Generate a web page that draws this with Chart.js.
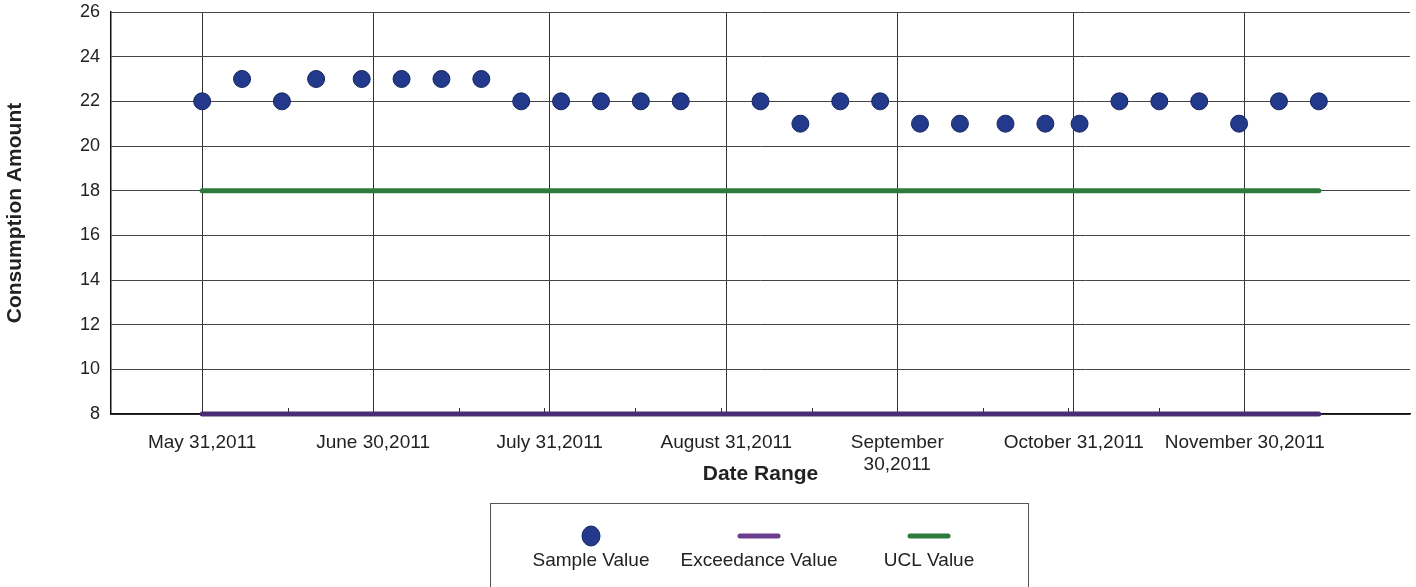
<!DOCTYPE html>
<html>
<head>
<meta charset="utf-8">
<script src="https://cdn.jsdelivr.net/npm/chart.js@4/dist/chart.umd.min.js"></script>
<style>
  html, body { margin: 0; padding: 0; background: #fff; }
  #c { display: block; }
</style>
</head>
<body>
<canvas id="c" width="1416" height="587"></canvas>
<script>
// ── Data ─────────────────────────────────────────────────────
const sampleDates = [
  '2011-05-31', '2011-06-07', '2011-06-14', '2011-06-20', '2011-06-28',
  '2011-07-05', '2011-07-12', '2011-07-19', '2011-07-26', '2011-08-02',
  '2011-08-09', '2011-08-16', '2011-08-23', '2011-09-06', '2011-09-13',
  '2011-09-20', '2011-09-27', '2011-10-04', '2011-10-11', '2011-10-19',
  '2011-10-26', '2011-11-01', '2011-11-08', '2011-11-15', '2011-11-22',
  '2011-11-29', '2011-12-06', '2011-12-13'
];
const sampleValues = [
  22, 23, 22, 23, 23,
  23, 23, 23, 22, 22,
  22, 22, 22, 22, 21,
  22, 22, 21, 21, 21,
  21, 21, 22, 22, 22,
  21, 22, 22
];
const uclValue = 18;
const exceedanceValue = 8;

const tickDates = ['2011-05-31', '2011-06-30', '2011-07-31', '2011-08-31', '2011-09-30', '2011-10-31', '2011-11-30'];
const tickLabels = ['May 31,2011', 'June 30,2011', 'July 31,2011', 'August 31,2011', ['September', '30,2011'], 'October 31,2011', 'November 30,2011'];
const minorTickDates = ['2011-06-15', '2011-07-15', '2011-07-30', '2011-08-15', '2011-08-30', '2011-09-15', '2011-10-15', '2011-10-30', '2011-11-15'];
const axisStart = '2011-05-15';
const axisEnd = '2011-12-29';

const legendItems = ['Sample Value', 'Exceedance Value', 'UCL Value'];

// ── Helpers ──────────────────────────────────────────────────
const BASE = Date.parse('2011-05-31');
function day(s) { return (Date.parse(s) - BASE) / 86400000; }

const FONT = '"Liberation Sans", Arial, sans-serif';
const DOT = '#233a8c';
const DOT_EDGE = '#16255c';
const GREEN = '#2e7a3c';
const PURPLE = '#4a2c74';
const PURPLE_LEG = '#6a3d8e';

const firstDay = day(sampleDates[0]);
const lastDay = day(sampleDates[sampleDates.length - 1]);

// ── Legend + minor ticks plugin ──────────────────────────────
const extras = {
  id: 'extras',
  afterDatasetsDraw(chart) {
    const { ctx, chartArea, scales } = chart;
    ctx.save();
    ctx.strokeStyle = '#333';
    ctx.lineWidth = 1;
    minorTickDates.forEach(d => {
      const x = Math.round(scales.x.getPixelForValue(day(d))) + 0.5;
      ctx.beginPath();
      ctx.moveTo(x, chartArea.bottom - 6);
      ctx.lineTo(x, chartArea.bottom - 2);
      ctx.stroke();
    });
    ctx.restore();
  },
  afterDraw(chart) {
    const { ctx } = chart;
    ctx.save();
    // box
    ctx.strokeStyle = '#555';
    ctx.lineWidth = 1;
    ctx.strokeRect(490.5, 503.5, 538, 90);

    const cx = [591, 759, 929];
    const my = 536;
    // sample dot
    ctx.beginPath();
    ctx.ellipse(cx[0], my, 9, 10, 0, 0, Math.PI * 2);
    ctx.fillStyle = DOT;
    ctx.fill();
    ctx.strokeStyle = DOT_EDGE;
    ctx.stroke();
    // lines
    ctx.lineCap = 'round';
    ctx.lineWidth = 5;
    ctx.strokeStyle = PURPLE_LEG;
    ctx.beginPath(); ctx.moveTo(cx[1] - 19, my); ctx.lineTo(cx[1] + 19, my); ctx.stroke();
    ctx.strokeStyle = GREEN;
    ctx.beginPath(); ctx.moveTo(cx[2] - 19, my); ctx.lineTo(cx[2] + 19, my); ctx.stroke();

    ctx.fillStyle = '#222';
    ctx.font = '19px ' + FONT;
    ctx.textAlign = 'center';
    ctx.textBaseline = 'middle';
    legendItems.forEach((t, i) => ctx.fillText(t, cx[i], 561));
    ctx.restore();
  }
};

// ── Chart ────────────────────────────────────────────────────
new Chart(document.getElementById('c'), {
  type: 'line',
  data: {
    datasets: [
      {
        label: legendItems[0],
        data: sampleDates.map((d, i) => ({ x: day(d), y: sampleValues[i] })),
        showLine: false,
        pointRadius: 8.5,
        pointBackgroundColor: DOT,
        pointBorderColor: DOT_EDGE,
        pointBorderWidth: 1,
        clip: false
      },
      {
        label: legendItems[1],
        data: [{ x: firstDay, y: exceedanceValue }, { x: lastDay, y: exceedanceValue }],
        borderColor: PURPLE,
        borderWidth: 5,
        borderCapStyle: 'round',
        pointRadius: 0,
        clip: false
      },
      {
        label: legendItems[2],
        data: [{ x: firstDay, y: uclValue }, { x: lastDay, y: uclValue }],
        borderColor: GREEN,
        borderWidth: 5,
        borderCapStyle: 'round',
        pointRadius: 0,
        clip: false
      }
    ]
  },
  options: {
    responsive: false,
    animation: false,
    events: [],
    layout: { autoPadding: false, padding: { top: 12, right: 6, bottom: 98, left: 0 } },
    plugins: { legend: { display: false }, tooltip: { enabled: false } },
    scales: {
      x: {
        type: 'linear',
        min: day(axisStart),
        max: day(axisEnd),
        afterBuildTicks(s) { s.ticks = tickDates.map(d => ({ value: day(d) })); },
        afterFit(s) { s.height = 75; s.paddingLeft = 0; s.paddingRight = 0; },
        grid: { color: '#333', lineWidth: 1, drawTicks: false },
        border: { color: '#111', width: 1.5 },
        ticks: {
          autoSkip: false,
          maxRotation: 0,
          padding: 17,
          color: '#222',
          font: { family: FONT, size: 19 },
          callback(v) {
            const i = tickDates.findIndex(d => day(d) === v);
            return i >= 0 ? tickLabels[i] : '';
          }
        },
        title: {
          display: true,
          text: 'Date Range',
          color: '#222',
          font: { family: FONT, size: 21, weight: 'bold' },
          padding: { top: 0, bottom: 2 }
        }
      },
      y: {
        min: 8,
        max: 26,
        afterFit(s) { s.width = 111; s.paddingTop = 0; s.paddingBottom = 0; },
        grid: { color: '#444', lineWidth: 1, drawTicks: false },
        border: { color: '#111', width: 1.5 },
        ticks: {
          stepSize: 1,
          padding: 11,
          color: '#222',
          font: { family: FONT, size: 18 },
          callback(v) { return v % 2 === 0 ? v : ''; }
        },
        title: {
          display: true,
          text: 'Consumption Amount',
          color: '#222',
          font: { family: FONT, size: 21, weight: 'bold' },
          padding: { top: 3, bottom: 0 }
        }
      }
    }
  },
  plugins: [extras]
});
</script>
</body>
</html>
